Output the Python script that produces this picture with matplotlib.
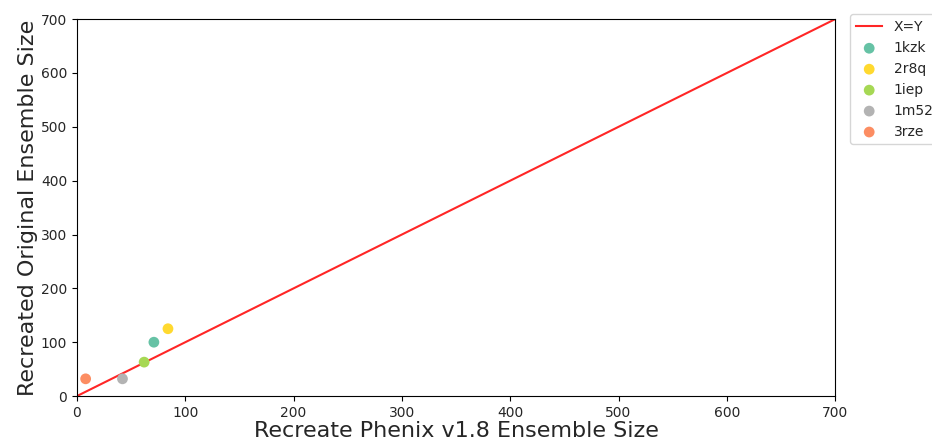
import matplotlib
matplotlib.use("Agg")
import matplotlib.pyplot as plt

# Ensemble sizes per structure
structures = ["1kzk", "2r8q", "1iep", "1m52", "3rze"]
phenix_sizes = [71, 84, 62, 42, 8]
original_sizes = [100, 125, 63, 32, 32]
colors = ["#66c2a5", "#ffd92f", "#a6d854", "#b3b3b3", "#fc8d62"]

axis_max = 700
ticks = [0, 100, 200, 300, 400, 500, 600, 700]

dpi = 100
fig = plt.figure(figsize=(932 / dpi, 445 / dpi), dpi=dpi)
ax = fig.add_axes([0.0826, 0.110, 0.8135, 0.847])

ax.plot([0, axis_max], [0, axis_max], color="red", alpha=0.85, lw=1.5, label="X=Y", zorder=2)
for name, xv, yv, c in zip(structures, phenix_sizes, original_sizes, colors):
    ax.scatter(xv, yv, s=60, color=c, label=name, zorder=3, edgecolors="none")

ax.set_xlim(0, axis_max)
ax.set_ylim(0, axis_max)
ax.set_xticks(ticks)
ax.set_yticks(ticks)
ax.tick_params(labelsize=10, labelcolor="#262626")
ax.set_xlabel("Recreate Phenix v1.8 Ensemble Size", fontsize=16, labelpad=1, color="#262626")
ax.set_ylabel("Recreated Original Ensemble Size", fontsize=16, labelpad=2, color="#262626")

leg = ax.legend(loc="upper left", bbox_to_anchor=(1.011, 1.031), fontsize=10,
                frameon=True, handlelength=1.9, handletextpad=0.8)
for t in leg.get_texts():
    t.set_color("#262626")

fig.savefig("out.png", dpi=dpi)
